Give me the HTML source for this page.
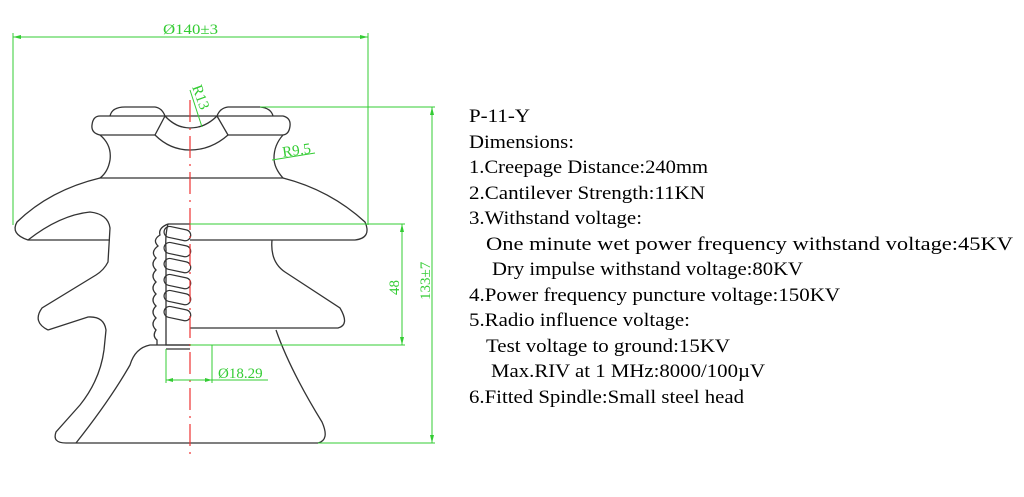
<!DOCTYPE html>
<html><head><meta charset="utf-8"><style>
html,body{margin:0;padding:0;background:#fff;width:1024px;height:497px;overflow:hidden}
</style></head><body>
<svg width="1024" height="497" viewBox="0 0 1024 497" xmlns="http://www.w3.org/2000/svg">
<g fill="none" stroke="#333" stroke-width="1.3">
<path d="M110,116 Q112,107 125,107 L155,107 Q162,108 165,116"/>
<path d="M217,116 Q220,108 228,107 L260,107 Q271,108 273,116"/>
<path d="M100,116 L283,116 Q291,118 290,126 Q289,135 282,135 L228,135 M155,135 L100,135 Q91,133 92,125 Q93,116 100,116"/>
<path d="M165,116 Q176,128 190,128 Q205,128 217,116"/>
<path d="M155,135 Q170,150 190,150 Q211,150 228,135"/>
<path d="M165,116 L155,135 M217,116 L228,135"/>
<path d="M100,135 Q112,145 110,160 Q108,172 100,178 L283,178 Q274,168 274,158 Q274,145 283,135"/>
<path d="M100,178 Q50,190 17,222 Q10,234 28,240 L110,240"/>
<path d="M283,178 Q330,190 365,222 Q372,238 355,240 L190,240"/>
<path d="M28,240 Q60,215 90,212 Q108,214 110,228 L108,262 Q104,270 96,275 L42,308 Q32,322 48,330"/>
<path d="M272,240 Q270,262 285,272 L340,308 Q350,325 338,328 L190,328"/>
<path d="M48,330 L88,317 Q104,316 106,330 L104,350 Q100,380 80,405 L56,432 Q52,443 66,443 L318,443 Q330,440 322,422 Q290,370 276,330"/>
<path d="M76,443 Q110,400 130,365 Q135,348 150,345 L190,345"/>
<path d="M168,224 L190,224 M168,224 Q158,228 160,235 Q152,240 158,246 Q150,252 156,258 Q150,264 156,270 Q150,276 156,282 Q150,288 156,294 Q150,300 156,306 Q150,312 156,318 Q150,324 156,330 Q152,336 157,340 L157,345"/>
<path d="M168,224 Q165,235 166,250 L166,345 L190,345"/>
<path d="M166,349 L190,349"/>
<g stroke-width="1.2">
<rect x="164" y="228" width="27" height="11" rx="5.5" transform="rotate(12 177 233)"/>
<rect x="164" y="244" width="27" height="11" rx="5.5" transform="rotate(12 177 249)"/>
<rect x="164" y="260" width="27" height="11" rx="5.5" transform="rotate(12 177 265)"/>
<rect x="164" y="276" width="27" height="11" rx="5.5" transform="rotate(12 177 281)"/>
<rect x="164" y="292" width="27" height="11" rx="5.5" transform="rotate(12 177 297)"/>
<rect x="164" y="308" width="27" height="11" rx="5.5" transform="rotate(12 177 313)"/>
</g>
</g>
<line x1="190" y1="100" x2="190" y2="460" stroke="#e33" stroke-width="1.2" stroke-dasharray="22,6,2,6"/>
<g stroke="#3c3" stroke-width="1" fill="none">
<path d="M13,33 L13,225 M368,33 L368,225 M13,37 L368,37"/>
<path d="M260,107 L435,107 M432,107 L432,443 M318,443 L435,443"/>
<path d="M190,224 L405,224 M190,345 L405,345 M402,224 L402,345"/>
<path d="M166,349 L166,383 M212,345 L212,383 M166,380 L268,380"/>
<path d="M190,90 L202,127 M272,160 L315,153"/>
</g>
<g fill="#3c3">
<path d="M13,37 l8,-2 l0,4z M368,37 l-8,-2 l0,4z M432,107 l-2,8 l4,0z M432,443 l-2,-8 l4,0z M402,224 l-2,8 l4,0z M402,345 l-2,-8 l4,0z M166,380 l7,-2 l0,4z M212,380 l-7,-2 l0,4z"/>
</g>
<g fill="#3c3" font-family="Liberation Serif, serif" font-size="15">
<text x="163" y="34" textLength="55" lengthAdjust="spacingAndGlyphs">Ø140±3</text>
<text x="283" y="157" transform="rotate(-8 283 157)">R9.5</text>
<text x="192" y="87" transform="rotate(70 192 87)">R13</text>
<text x="399" y="295" transform="rotate(-90 399 295)">48</text>
<text x="430" y="300" transform="rotate(-90 430 300)">133±7</text>
<text x="218" y="378">Ø18.29</text>
</g>
<g fill="#000" font-family="Liberation Serif, serif" font-size="19">
<text x="469" y="122" textLength="61" lengthAdjust="spacingAndGlyphs">P-11-Y</text>
<text x="469" y="148" textLength="105" lengthAdjust="spacingAndGlyphs">Dimensions:</text>
<text x="469" y="173" textLength="239" lengthAdjust="spacingAndGlyphs">1.Creepage Distance:240mm</text>
<text x="469" y="199" textLength="236" lengthAdjust="spacingAndGlyphs">2.Cantilever Strength:11KN</text>
<text x="469" y="224" textLength="173" lengthAdjust="spacingAndGlyphs">3.Withstand voltage:</text>
<text x="486" y="250" textLength="527" lengthAdjust="spacingAndGlyphs">One minute wet power frequency withstand voltage:45KV</text>
<text x="492" y="275" textLength="311" lengthAdjust="spacingAndGlyphs">Dry impulse withstand voltage:80KV</text>
<text x="469" y="301" textLength="371" lengthAdjust="spacingAndGlyphs">4.Power frequency puncture voltage:150KV</text>
<text x="469" y="326" textLength="221" lengthAdjust="spacingAndGlyphs">5.Radio influence voltage:</text>
<text x="486" y="352" textLength="244" lengthAdjust="spacingAndGlyphs">Test voltage to ground:15KV</text>
<text x="491" y="377" textLength="274" lengthAdjust="spacingAndGlyphs">Max.RIV at 1 MHz:8000/100µV</text>
<text x="469" y="403" textLength="275" lengthAdjust="spacingAndGlyphs">6.Fitted Spindle:Small steel head</text>
</g>
</svg>
</body></html>
